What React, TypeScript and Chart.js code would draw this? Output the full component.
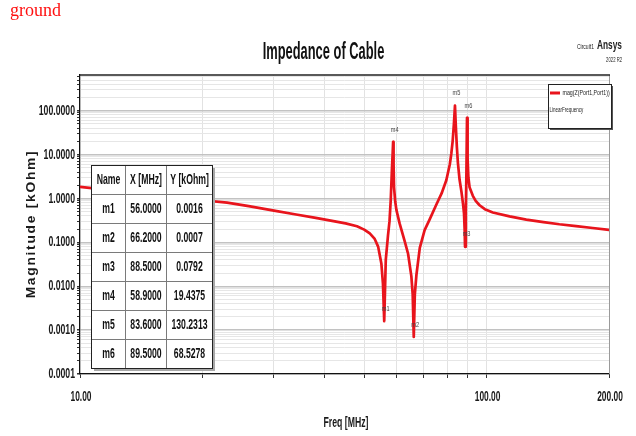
import { useEffect, useRef } from "react";
import { Chart, registerables } from "chart.js";

Chart.register(...registerables);

// Sweep of |Z(Port1,Port1)| for the cable model
const freqMHz = [
  10, 12, 14, 16, 18, 20, 23, 26, 30, 34, 38, 42, 45, 48, 50, 51.6, 53, 54.1, 55.1, 55.6,
  56, 56.5, 57.2, 57.7, 58.1, 58.5, 58.75, 58.9, 59.05, 59.2, 59.6, 60, 61.1, 62.9, 64.1,
  65.3, 65.8, 66.2, 66.6, 67.2, 68.5, 70.4, 72.4, 75.2, 77.5, 79.6, 81.2, 81.9, 82.5, 83.1,
  83.6, 84.0, 84.5, 85, 85.8, 86.7, 87.5, 88.0, 88.3, 88.5, 88.9, 89.2, 89.5, 89.8, 90.2,
  90.8, 92.5, 94, 96.1, 99, 103.6, 113.9, 125.2, 138, 151, 166, 182.4, 200,
];
const magKOhm = [
  1.83, 1.53, 1.31, 1.14, 1.01, 0.91, 0.8, 0.67, 0.53, 0.43, 0.36, 0.305, 0.27, 0.232, 0.195,
  0.16, 0.122, 0.08, 0.033, 0.0115,
  0.0016, 0.04, 0.14, 0.3, 0.9, 4.5, 11, 19.4375, 6, 1.8, 0.85, 0.55, 0.27, 0.105, 0.055,
  0.017, 0.0065, 0.0007, 0.0065, 0.018, 0.075, 0.19, 0.33, 0.72, 1.3, 2.6, 6, 10.6, 20, 50,
  130.2313, 45, 15, 6.5, 2.7, 1.45, 0.75, 0.45, 0.2, 0.0792, 0.5, 4, 68.5278, 8, 3,
  1.8, 1.15, 0.88, 0.7, 0.57, 0.48, 0.39, 0.33, 0.29, 0.258, 0.235, 0.212, 0.193,
];

// Marker table
const markerNames = ["m1", "m2", "m3", "m4", "m5", "m6"];
const markerFreq = [56.0, 66.2, 88.5, 58.9, 83.6, 89.5];
const markerMag = [0.0016, 0.0007, 0.0792, 19.4375, 130.2313, 68.5278];
const tableHeaders = ["Name", "X [MHz]", "Y [kOhm]"];

// Axes
const xMin = 10;
const xMax = 200;
const yMin = 0.0001;
const yMax = 650;
const xGridValues = [10, 20, 30, 40, 50, 60, 70, 80, 90, 100, 200];
const xLabelValues = [10, 100, 200];
const yDecades = [0.0001, 0.001, 0.01, 0.1, 1, 10, 100];
const yMinorSteps = [2, 3, 4, 5, 6, 7, 8, 9];

const chartTitle = "Impedance of Cable";
const xAxisTitle = "Freq [MHz]";
const yAxisTitle = "Magnitude [kOhm]";
const legendLabel = "mag(Z(Port1,Port1))";
const legendSweep = "LinearFrequency";
const designName = "Circuit1";
const vendorName = "Ansys";
const releaseName = "2022 R2";
const cornerNote = "ground";

const RED = "#e8141c";
const SANS = '"Liberation Sans", Arial, sans-serif';

type TextOpts = {
  size: number;
  weight?: string;
  family?: string;
  sx?: number;
  align?: CanvasTextAlign;
  baseline?: CanvasTextBaseline;
  color?: string;
  spacing?: number;
};

function drawText(ctx: CanvasRenderingContext2D, text: string, x: number, y: number, o: TextOpts) {
  ctx.save();
  ctx.font = `${o.weight ?? "normal"} ${o.size}px ${o.family ?? SANS}`;
  ctx.fillStyle = o.color ?? "#111";
  ctx.textAlign = o.align ?? "left";
  ctx.textBaseline = o.baseline ?? "middle";
  if (o.spacing) (ctx as any).letterSpacing = `${o.spacing}px`;
  ctx.translate(x, y);
  ctx.scale(o.sx ?? 1, 1);
  ctx.fillText(text, 0, 0);
  ctx.restore();
}

const decorations = {
  id: "decorations",
  beforeDraw(chart: any) {
    const ctx = chart.ctx as CanvasRenderingContext2D;
    ctx.save();
    ctx.fillStyle = "#fff";
    ctx.fillRect(0, 0, chart.width, chart.height);
    ctx.restore();
  },
  afterDraw(chart: any) {
    const ctx = chart.ctx as CanvasRenderingContext2D;
    const a = chart.chartArea;
    const xs = chart.scales.x;
    const ys = chart.scales.y;

    // frame: top and right edges
    ctx.save();
    ctx.strokeStyle = "#9a9a9a";
    ctx.lineWidth = 1;
    ctx.beginPath();
    ctx.moveTo(Math.round(a.right) + 0.5, a.top);
    ctx.lineTo(Math.round(a.right) + 0.5, a.bottom);
    ctx.stroke();
    ctx.strokeStyle = "#222";
    ctx.lineWidth = 1.5;
    ctx.beginPath();
    ctx.moveTo(a.left, a.top);
    ctx.lineTo(a.right + 1, a.top);
    ctx.stroke();
    ctx.restore();

    // corner note
    drawText(ctx, cornerNote, 10, 16, {
      size: 18,
      family: '"Liberation Serif", "Times New Roman", serif',
      color: "#ff1010",
      baseline: "alphabetic",
    });

    // title and header info
    drawText(ctx, chartTitle, 323.5, 59, {
      size: 23, weight: "bold", sx: 0.56, align: "center", baseline: "alphabetic", color: "#111",
    });
    drawText(ctx, designName, 594, 46.5, { size: 8, sx: 0.63, align: "right", color: "#222" });
    drawText(ctx, vendorName, 597, 45, { size: 13, weight: "bold", sx: 0.64, color: "#222" });
    drawText(ctx, releaseName, 622, 60, { size: 7, sx: 0.6, align: "right", color: "#222" });

    // tick labels
    yDecades.forEach((v) => {
      drawText(ctx, v.toFixed(4), a.left - 5, ys.getPixelForValue(v), {
        size: 15, weight: "bold", sx: 0.58, align: "right", color: "#1a1a1a",
      });
    });
    xLabelValues.forEach((v) => {
      drawText(ctx, v.toFixed(2), xs.getPixelForValue(v) + 1, 397, {
        size: 15, weight: "bold", sx: 0.56, align: "center", color: "#1a1a1a",
      });
    });

    // axis titles
    drawText(ctx, xAxisTitle, 346, 423, {
      size: 15, weight: "bold", sx: 0.58, align: "center", color: "#1a1a1a",
    });
    ctx.save();
    ctx.translate(32, 224);
    ctx.rotate(-Math.PI / 2);
    drawText(ctx, yAxisTitle, 0, 0, {
      size: 12, weight: "bold", sx: 1.15, spacing: 1.5, align: "center", color: "#1a1a1a",
    });
    ctx.restore();

    // marker labels
    markerNames.forEach((name, i) => {
      const px = xs.getPixelForValue(markerFreq[i]);
      const py = ys.getPixelForValue(markerMag[i]);
      drawText(ctx, name, px + 1.5, py - 12.5, {
        size: 8, sx: 0.7, align: "center", color: "#444",
      });
    });

    // legend box
    const lx = 548, ly = 84, lw = 63, lh = 44;
    ctx.save();
    ctx.fillStyle = "#555";
    ctx.fillRect(lx + 2, ly + 2, lw, lh);
    ctx.fillStyle = "#fff";
    ctx.fillRect(lx, ly, lw, lh);
    ctx.strokeStyle = "#222";
    ctx.lineWidth = 1;
    ctx.strokeRect(lx + 0.5, ly + 0.5, lw, lh);
    ctx.strokeStyle = RED;
    ctx.lineWidth = 3;
    ctx.beginPath();
    ctx.moveTo(lx + 2, 93);
    ctx.lineTo(lx + 12, 93);
    ctx.stroke();
    ctx.restore();
    drawText(ctx, legendLabel, lx + 14.5, 93, { size: 8, sx: 0.66, color: "#222" });
    drawText(ctx, legendSweep, lx + 1.5, 109.5, { size: 8, sx: 0.56, color: "#222" });

    // marker table
    const tx = 91, ty = 165, colW = [34, 41, 46], rowH = 29;
    const tw = colW.reduce((s, w) => s + w, 0);
    const th = rowH * (markerNames.length + 1);
    ctx.save();
    ctx.fillStyle = "#a8a8a8";
    ctx.fillRect(tx + 3, ty + 3, tw, th);
    ctx.fillStyle = "#fff";
    ctx.fillRect(tx, ty, tw, th);
    ctx.strokeStyle = "#7a7a7a";
    ctx.lineWidth = 1;
    ctx.beginPath();
    for (let r = 1; r <= markerNames.length; r++) {
      ctx.moveTo(tx, ty + r * rowH + 0.5);
      ctx.lineTo(tx + tw, ty + r * rowH + 0.5);
    }
    let cx = tx;
    for (let c = 0; c < colW.length - 1; c++) {
      cx += colW[c];
      ctx.moveTo(cx + 0.5, ty);
      ctx.lineTo(cx + 0.5, ty + th);
    }
    ctx.stroke();
    ctx.strokeStyle = "#222";
    ctx.strokeRect(tx + 0.5, ty + 0.5, tw, th);
    ctx.restore();

    const rows = [tableHeaders].concat(
      markerNames.map((n, i) => [n, markerFreq[i].toFixed(4), markerMag[i].toFixed(4)])
    );
    rows.forEach((row, r) => {
      let x0 = tx;
      row.forEach((cell, c) => {
        drawText(ctx, cell, x0 + colW[c] / 2 + 0.5, ty + r * rowH + rowH / 2 + 1, {
          size: 14, weight: "bold", sx: 0.62, align: "center", color: "#111",
        });
        x0 += colW[c];
      });
    });
  },
};

export default function App() {
  const ref = useRef<HTMLCanvasElement>(null);

  useEffect(() => {
    const points = freqMHz.map((f, i) => ({ x: f, y: magKOhm[i] }));
    const yTicks: { value: number; major: boolean }[] = [];
    yDecades.forEach((d) => {
      yTicks.push({ value: d, major: true });
      yMinorSteps.forEach((m) => {
        const v = d * m;
        if (v < yMax) yTicks.push({ value: v, major: false });
      });
    });
    const xTicks = xGridValues.map((v) => ({ value: v, major: xLabelValues.includes(v) }));

    const chart = new Chart(ref.current!, {
      type: "line",
      data: {
        datasets: [
          {
            data: points,
            borderColor: RED,
            borderWidth: 2.7,
            pointRadius: 0,
            tension: 0,
            borderJoinStyle: "round",
            borderCapStyle: "round",
            fill: false,
          },
        ],
      },
      plugins: [decorations],
      options: {
        responsive: false,
        devicePixelRatio: 1,
        animation: false,
        parsing: false,
        layout: { padding: { top: 75, right: 27, left: 0, bottom: 0 } },
        plugins: {
          legend: { display: false },
          title: { display: false },
          tooltip: { enabled: false },
        },
        scales: {
          x: {
            type: "logarithmic",
            min: xMin,
            max: xMax,
            bounds: "data",
            afterBuildTicks: (s: any) => {
              s.ticks = xTicks.map((t) => ({ ...t }));
            },
            afterFit: (s: any) => {
              s.height = 62;
            },
            ticks: { display: false },
            grid: {
              color: "#e2e2e2",
              lineWidth: 1,
              drawTicks: true,
              tickLength: 4,
              tickColor: "#333",
            },
            border: { display: true, color: "#111", width: 1.2 },
          },
          y: {
            type: "logarithmic",
            min: yMin,
            max: yMax,
            bounds: "data",
            afterBuildTicks: (s: any) => {
              s.ticks = yTicks.map((t) => ({ ...t }));
            },
            afterFit: (s: any) => {
              s.width = 80;
            },
            ticks: { display: false },
            grid: {
              color: (c: any) => (c.tick && c.tick.major ? "#c2c2c2" : "#e6e6e6"),
              lineWidth: (c: any) => (c.tick && c.tick.major ? 1.4 : 1),
              drawTicks: true,
              tickLength: 3,
              tickColor: "#333",
            },
            border: { display: true, color: "#111", width: 1.2 },
          },
        },
      },
    } as any);

    return () => chart.destroy();
  }, []);

  return (
    <div
      style={{
        position: "fixed",
        left: 0,
        top: 0,
        width: 636,
        height: 436,
        background: "#fff",
      }}
    >
      <canvas
        ref={ref}
        width={636}
        height={436}
        style={{ display: "block", width: 636, height: 436 }}
      />
    </div>
  );
}
